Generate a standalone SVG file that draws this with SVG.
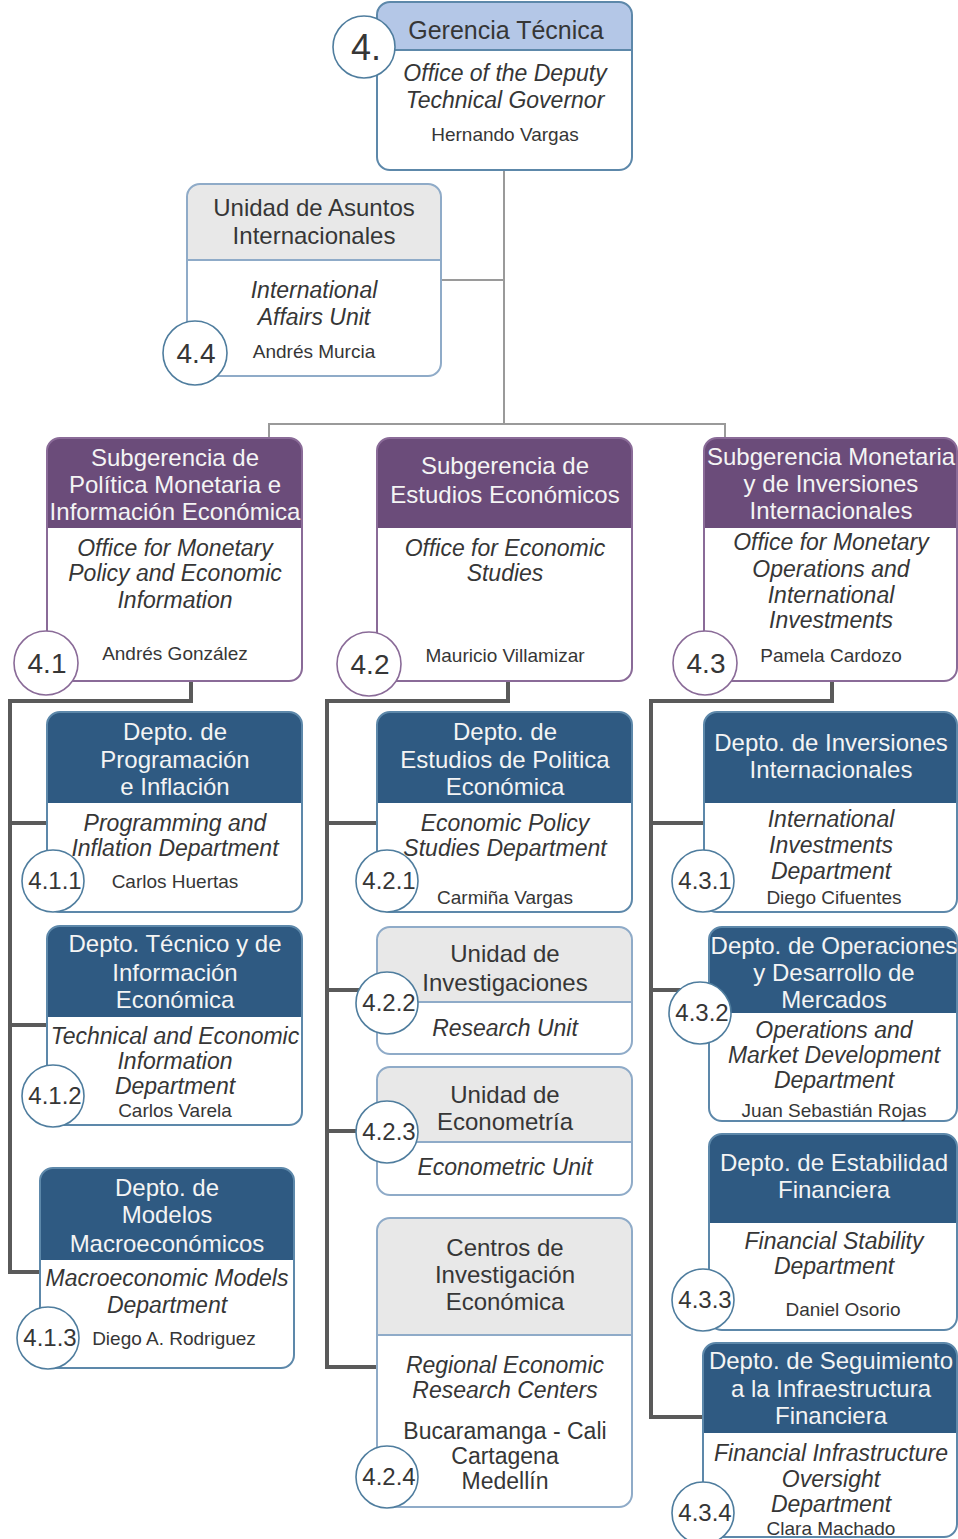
<svg xmlns="http://www.w3.org/2000/svg" width="958" height="1539" viewBox="0 0 958 1539">
  <style>
    text { font-family: "Liberation Sans", Arial, sans-serif; text-anchor: middle; fill: #363636; }
    .hd { font-size: 24px; }
    .hw { font-size: 24px; fill: #f4f4f4; }
    .it { font-size: 23px; font-style: italic; }
    .nm { font-size: 19px; }
    .ct { font-size: 23px; }
    .n1 { font-size: 36px; }
    .n2 { font-size: 28px; }
    .n3 { font-size: 24px; }
    .body { fill: #ffffff; }
    .h-top { fill: #b4c7e7; }
    .h-gray { fill: #e8e8e8; }
    .h-purple { fill: #6b4c7a; }
    .h-blue { fill: #2f5a82; }
    .ob { fill: none; stroke: #5d88aa; stroke-width: 2; }
    .og { fill: none; stroke: #8fabc8; stroke-width: 2; }
    .op { fill: none; stroke: #8a6b98; stroke-width: 2; }
    .cb { fill: #ffffff; stroke: #4f7d9e; stroke-width: 1.6; }
    .cp { fill: #ffffff; stroke: #8a6b98; stroke-width: 1.6; }
    .thin { fill: none; stroke: #9a9a9a; stroke-width: 2; }
    .thick { fill: none; stroke: #5a5a5a; stroke-width: 4; }
  </style>

  <!-- reporting lines -->
  <g id="connectors">
    <path class="thin" d="M504,170 V424"/>
    <path class="thin" d="M441,280 H504"/>
    <path class="thin" d="M269,438 V424 H725 V438"/>
    <path class="thick" d="M191,681 V701 H10 V1272 H40"/>
    <path class="thick" d="M10,823 H47"/>
    <path class="thick" d="M10,1025 H47"/>
    <path class="thick" d="M508,681 V701 H327 V1367 H377"/>
    <path class="thick" d="M327,823 H377"/>
    <path class="thick" d="M327,990 H377"/>
    <path class="thick" d="M327,1131 H377"/>
    <path class="thick" d="M832,681 V701 H651 V1417 H703"/>
    <path class="thick" d="M651,823 H704"/>
    <path class="thick" d="M651,990 H709"/>
  </g>

  <!-- 4. Gerencia Técnica -->
  <g id="n4">
    <rect class="body" x="377" y="2" width="255" height="168" rx="13"/>
    <path class="h-top" d="M377,50 V15 A13,13 0 0 1 390,2 H619 A13,13 0 0 1 632,15 V50 Z"/>
    <line x1="377" y1="50" x2="632" y2="50" stroke="#5d88aa" stroke-width="2"/>
    <rect class="ob" x="377" y="2" width="255" height="168" rx="13"/>
    <circle class="cb" cx="364" cy="47" r="31"/>
    <text class="n1" x="366" y="60">4.</text>
    <text class="hd" x="506" y="39" style="font-size:25px">Gerencia Técnica</text>
    <text class="it" x="505" y="81">Office of the Deputy</text>
    <text class="it" x="505" y="108">Technical Governor</text>
    <text class="nm" x="505" y="141">Hernando Vargas</text>
  </g>

  <!-- 4.4 Unidad de Asuntos Internacionales -->
  <g id="n4_4">
    <rect class="body" x="187" y="184" width="254" height="192" rx="13"/>
    <path class="h-gray" d="M187,260 V197 A13,13 0 0 1 200,184 H428 A13,13 0 0 1 441,197 V260 Z"/>
    <line x1="187" y1="260" x2="441" y2="260" stroke="#8fabc8" stroke-width="2"/>
    <rect class="og" x="187" y="184" width="254" height="192" rx="13"/>
    <circle class="cb" cx="195" cy="353" r="32"/>
    <text class="n2" x="196" y="363">4.4</text>
    <text class="hd" x="314" y="216">Unidad de Asuntos</text>
    <text class="hd" x="314" y="244">Internacionales</text>
    <text class="it" x="314" y="298">International</text>
    <text class="it" x="314" y="325">Affairs Unit</text>
    <text class="nm" x="314" y="358">Andrés Murcia</text>
  </g>

  <!-- 4.1 Subgerencia de Política Monetaria e Información Económica -->
  <g id="n4_1">
    <rect class="body" x="47" y="438" width="255" height="243" rx="13"/>
    <path class="h-purple" d="M47,528 V451 A13,13 0 0 1 60,438 H289 A13,13 0 0 1 302,451 V528 Z"/>
    <rect class="op" x="47" y="438" width="255" height="243" rx="13"/>
    <circle class="cp" cx="46" cy="663" r="32"/>
    <text class="n2" x="47" y="673">4.1</text>
    <text class="hw" x="175" y="466">Subgerencia de</text>
    <text class="hw" x="175" y="493">Política Monetaria e</text>
    <text class="hw" x="175" y="520">Información Económica</text>
    <text class="it" x="175" y="556">Office for Monetary</text>
    <text class="it" x="175" y="581">Policy and Economic</text>
    <text class="it" x="175" y="608">Information</text>
    <text class="nm" x="175" y="660">Andrés González</text>
  </g>

  <!-- 4.2 Subgerencia de Estudios Económicos -->
  <g id="n4_2">
    <rect class="body" x="377" y="438" width="255" height="243" rx="13"/>
    <path class="h-purple" d="M377,528 V451 A13,13 0 0 1 390,438 H619 A13,13 0 0 1 632,451 V528 Z"/>
    <rect class="op" x="377" y="438" width="255" height="243" rx="13"/>
    <circle class="cp" cx="369" cy="664" r="32"/>
    <text class="n2" x="370" y="674">4.2</text>
    <text class="hw" x="505" y="474">Subgerencia de</text>
    <text class="hw" x="505" y="503">Estudios Económicos</text>
    <text class="it" x="505" y="556">Office for Economic</text>
    <text class="it" x="505" y="581">Studies</text>
    <text class="nm" x="505" y="662">Mauricio Villamizar</text>
  </g>

  <!-- 4.3 Subgerencia Monetaria y de Inversiones Internacionales -->
  <g id="n4_3">
    <rect class="body" x="704" y="438" width="253" height="243" rx="13"/>
    <path class="h-purple" d="M704,528 V451 A13,13 0 0 1 717,438 H944 A13,13 0 0 1 957,451 V528 Z"/>
    <rect class="op" x="704" y="438" width="253" height="243" rx="13"/>
    <circle class="cp" cx="705" cy="663" r="32"/>
    <text class="n2" x="706" y="673">4.3</text>
    <text class="hw" x="831" y="465">Subgerencia Monetaria</text>
    <text class="hw" x="831" y="492">y de Inversiones</text>
    <text class="hw" x="831" y="519">Internacionales</text>
    <text class="it" x="831" y="550">Office for Monetary</text>
    <text class="it" x="831" y="577">Operations and</text>
    <text class="it" x="831" y="603">International</text>
    <text class="it" x="831" y="628">Investments</text>
    <text class="nm" x="831" y="662">Pamela Cardozo</text>
  </g>

  <!-- 4.1.1 Depto. de Programación e Inflación -->
  <g id="n4_1_1">
    <rect class="body" x="47" y="712" width="255" height="200" rx="13"/>
    <path class="h-blue" d="M47,803 V725 A13,13 0 0 1 60,712 H289 A13,13 0 0 1 302,725 V803 Z"/>
    <rect class="ob" x="47" y="712" width="255" height="200" rx="13"/>
    <circle class="cb" cx="53" cy="881" r="31"/>
    <text class="n3" x="55" y="889">4.1.1</text>
    <text class="hw" x="175" y="740">Depto. de</text>
    <text class="hw" x="175" y="768">Programación</text>
    <text class="hw" x="175" y="795">e Inflación</text>
    <text class="it" x="175" y="831">Programming and</text>
    <text class="it" x="175" y="856">Inflation Department</text>
    <text class="nm" x="175" y="888">Carlos Huertas</text>
  </g>

  <!-- 4.1.2 Depto. Técnico y de Información Económica -->
  <g id="n4_1_2">
    <rect class="body" x="47" y="926" width="255" height="199" rx="13"/>
    <path class="h-blue" d="M47,1017 V939 A13,13 0 0 1 60,926 H289 A13,13 0 0 1 302,939 V1017 Z"/>
    <rect class="ob" x="47" y="926" width="255" height="199" rx="13"/>
    <circle class="cb" cx="53" cy="1096" r="31"/>
    <text class="n3" x="55" y="1104">4.1.2</text>
    <text class="hw" x="175" y="952">Depto. Técnico y de</text>
    <text class="hw" x="175" y="981">Información</text>
    <text class="hw" x="175" y="1008">Económica</text>
    <text class="it" x="175" y="1044">Technical and Economic</text>
    <text class="it" x="175" y="1069">Information</text>
    <text class="it" x="175" y="1094">Department</text>
    <text class="nm" x="175" y="1117">Carlos Varela</text>
  </g>

  <!-- 4.1.3 Depto. de Modelos Macroeconómicos -->
  <g id="n4_1_3">
    <rect class="body" x="40" y="1168" width="254" height="200" rx="13"/>
    <path class="h-blue" d="M40,1260 V1181 A13,13 0 0 1 53,1168 H281 A13,13 0 0 1 294,1181 V1260 Z"/>
    <rect class="ob" x="40" y="1168" width="254" height="200" rx="13"/>
    <circle class="cb" cx="48" cy="1338" r="31"/>
    <text class="n3" x="50" y="1346">4.1.3</text>
    <text class="hw" x="167" y="1196">Depto. de</text>
    <text class="hw" x="167" y="1223">Modelos</text>
    <text class="hw" x="167" y="1252">Macroeconómicos</text>
    <text class="it" x="167" y="1286">Macroeconomic Models</text>
    <text class="it" x="167" y="1313">Department</text>
    <text class="nm" x="174" y="1345">Diego A. Rodriguez</text>
  </g>

  <!-- 4.2.1 Depto. de Estudios de Politica Económica -->
  <g id="n4_2_1">
    <rect class="body" x="377" y="712" width="255" height="200" rx="13"/>
    <path class="h-blue" d="M377,803 V725 A13,13 0 0 1 390,712 H619 A13,13 0 0 1 632,725 V803 Z"/>
    <rect class="ob" x="377" y="712" width="255" height="200" rx="13"/>
    <circle class="cb" cx="387" cy="881" r="31"/>
    <text class="n3" x="389" y="889">4.2.1</text>
    <text class="hw" x="505" y="740">Depto. de</text>
    <text class="hw" x="505" y="768">Estudios de Politica</text>
    <text class="hw" x="505" y="795">Económica</text>
    <text class="it" x="505" y="831">Economic Policy</text>
    <text class="it" x="505" y="856">Studies Department</text>
    <text class="nm" x="505" y="904">Carmiña Vargas</text>
  </g>

  <!-- 4.2.2 Unidad de Investigaciones -->
  <g id="n4_2_2">
    <rect class="body" x="377" y="927" width="255" height="127" rx="13"/>
    <path class="h-gray" d="M377,1002 V940 A13,13 0 0 1 390,927 H619 A13,13 0 0 1 632,940 V1002 Z"/>
    <line x1="377" y1="1002" x2="632" y2="1002" stroke="#8fabc8" stroke-width="2"/>
    <rect class="og" x="377" y="927" width="255" height="127" rx="13"/>
    <circle class="cb" cx="387" cy="1003" r="31"/>
    <text class="n3" x="389" y="1011">4.2.2</text>
    <text class="hd" x="505" y="962">Unidad de</text>
    <text class="hd" x="505" y="991">Investigaciones</text>
    <text class="it" x="505" y="1036">Research Unit</text>
  </g>

  <!-- 4.2.3 Unidad de Econometría -->
  <g id="n4_2_3">
    <rect class="body" x="377" y="1067" width="255" height="128" rx="13"/>
    <path class="h-gray" d="M377,1142 V1080 A13,13 0 0 1 390,1067 H619 A13,13 0 0 1 632,1080 V1142 Z"/>
    <line x1="377" y1="1142" x2="632" y2="1142" stroke="#8fabc8" stroke-width="2"/>
    <rect class="og" x="377" y="1067" width="255" height="128" rx="13"/>
    <circle class="cb" cx="387" cy="1132" r="31"/>
    <text class="n3" x="389" y="1140">4.2.3</text>
    <text class="hd" x="505" y="1103">Unidad de</text>
    <text class="hd" x="505" y="1130">Econometría</text>
    <text class="it" x="505" y="1175">Econometric Unit</text>
  </g>

  <!-- 4.2.4 Centros de Investigación Económica -->
  <g id="n4_2_4">
    <rect class="body" x="377" y="1218" width="255" height="289" rx="13"/>
    <path class="h-gray" d="M377,1335 V1231 A13,13 0 0 1 390,1218 H619 A13,13 0 0 1 632,1231 V1335 Z"/>
    <line x1="377" y1="1335" x2="632" y2="1335" stroke="#8fabc8" stroke-width="2"/>
    <rect class="og" x="377" y="1218" width="255" height="289" rx="13"/>
    <circle class="cb" cx="387" cy="1477" r="31"/>
    <text class="n3" x="389" y="1485">4.2.4</text>
    <text class="hd" x="505" y="1256">Centros de</text>
    <text class="hd" x="505" y="1283">Investigación</text>
    <text class="hd" x="505" y="1310">Económica</text>
    <text class="it" x="505" y="1373">Regional Economic</text>
    <text class="it" x="505" y="1398">Research Centers</text>
    <text class="ct" x="505" y="1439">Bucaramanga - Cali</text>
    <text class="ct" x="505" y="1464">Cartagena</text>
    <text class="ct" x="505" y="1489">Medellín</text>
  </g>

  <!-- 4.3.1 Depto. de Inversiones Internacionales -->
  <g id="n4_3_1">
    <rect class="body" x="704" y="712" width="253" height="200" rx="13"/>
    <path class="h-blue" d="M704,803 V725 A13,13 0 0 1 717,712 H944 A13,13 0 0 1 957,725 V803 Z"/>
    <rect class="ob" x="704" y="712" width="253" height="200" rx="13"/>
    <circle class="cb" cx="703" cy="881" r="31"/>
    <text class="n3" x="705" y="889">4.3.1</text>
    <text class="hw" x="831" y="751">Depto. de Inversiones</text>
    <text class="hw" x="831" y="778">Internacionales</text>
    <text class="it" x="831" y="827">International</text>
    <text class="it" x="831" y="853">Investments</text>
    <text class="it" x="831" y="879">Department</text>
    <text class="nm" x="834" y="904">Diego Cifuentes</text>
  </g>

  <!-- 4.3.2 Depto. de Operaciones y Desarrollo de Mercados -->
  <g id="n4_3_2">
    <rect class="body" x="709" y="927" width="248" height="194" rx="13"/>
    <path class="h-blue" d="M709,1013 V940 A13,13 0 0 1 722,927 H944 A13,13 0 0 1 957,940 V1013 Z"/>
    <rect class="ob" x="709" y="927" width="248" height="194" rx="13"/>
    <circle class="cb" cx="700" cy="1013" r="31"/>
    <text class="n3" x="702" y="1021">4.3.2</text>
    <text class="hw" x="834" y="954">Depto. de Operaciones</text>
    <text class="hw" x="834" y="981">y Desarrollo de</text>
    <text class="hw" x="834" y="1008">Mercados</text>
    <text class="it" x="834" y="1038">Operations and</text>
    <text class="it" x="834" y="1063">Market Development</text>
    <text class="it" x="834" y="1088">Department</text>
    <text class="nm" x="834" y="1117">Juan Sebastián Rojas</text>
  </g>

  <!-- 4.3.3 Depto. de Estabilidad Financiera -->
  <g id="n4_3_3">
    <rect class="body" x="709" y="1134" width="248" height="196" rx="13"/>
    <path class="h-blue" d="M709,1223 V1147 A13,13 0 0 1 722,1134 H944 A13,13 0 0 1 957,1147 V1223 Z"/>
    <rect class="ob" x="709" y="1134" width="248" height="196" rx="13"/>
    <circle class="cb" cx="703" cy="1300" r="31"/>
    <text class="n3" x="705" y="1308">4.3.3</text>
    <text class="hw" x="834" y="1171">Depto. de Estabilidad</text>
    <text class="hw" x="834" y="1198">Financiera</text>
    <text class="it" x="834" y="1249">Financial Stability</text>
    <text class="it" x="834" y="1274">Department</text>
    <text class="nm" x="843" y="1316">Daniel Osorio</text>
  </g>

  <!-- 4.3.4 Depto. de Seguimiento a la Infraestructura Financiera -->
  <g id="n4_3_4">
    <rect class="body" x="703" y="1343" width="254" height="194" rx="13"/>
    <path class="h-blue" d="M703,1433 V1356 A13,13 0 0 1 716,1343 H944 A13,13 0 0 1 957,1356 V1433 Z"/>
    <rect class="ob" x="703" y="1343" width="254" height="194" rx="13"/>
    <circle class="cb" cx="703" cy="1513" r="31"/>
    <text class="n3" x="705" y="1521">4.3.4</text>
    <text class="hw" x="831" y="1369">Depto. de Seguimiento</text>
    <text class="hw" x="831" y="1397">a la Infraestructura</text>
    <text class="hw" x="831" y="1424">Financiera</text>
    <text class="it" x="831" y="1461">Financial Infrastructure</text>
    <text class="it" x="831" y="1487">Oversight</text>
    <text class="it" x="831" y="1512">Department</text>
    <text class="nm" x="831" y="1535">Clara Machado</text>
  </g>
</svg>
